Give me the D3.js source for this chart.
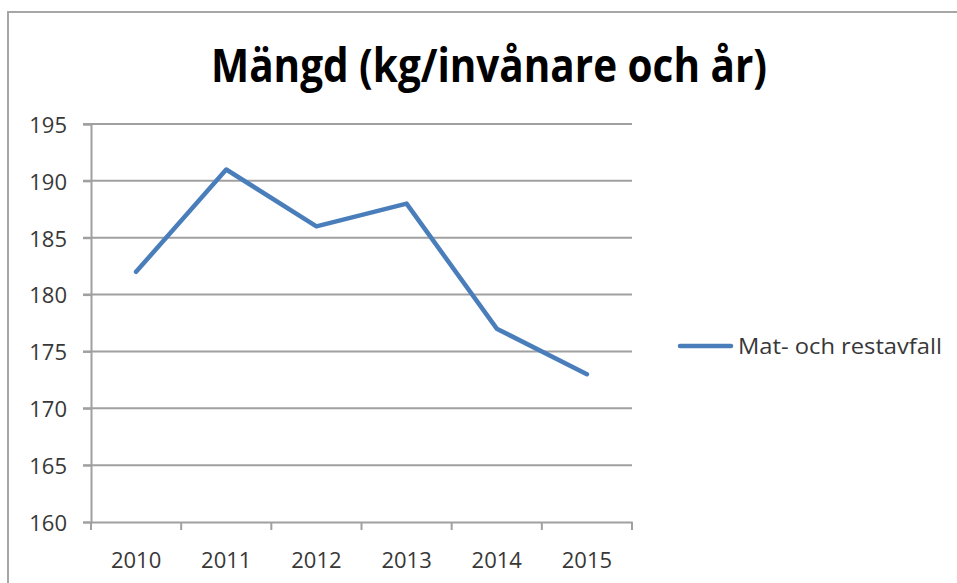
<!DOCTYPE html>
<html>
<head>
<meta charset="utf-8">
<script src="https://cdn.jsdelivr.net/npm/d3@7"></script>
<style>
  body { margin: 0; background: #fff; }
  svg { display: block; }
</style>
</head>
<body>
<svg id="chart"></svg>
<script>
const years = ['2010', '2011', '2012', '2013', '2014', '2015'];
const values = [182, 191, 186, 188, 177, 173];
const yTicks = [160, 165, 170, 175, 180, 185, 190, 195];
const seriesName = 'Mat- och restavfall';
const title = 'Mängd (kg/invånare och år)';

const width = 957, height = 583;
const margin = { top: 124, right: 325, bottom: 61, left: 91 };
const innerWidth = width - margin.left - margin.right;
const innerHeight = height - margin.top - margin.bottom;
const font = 'Open Sans, sans-serif';

const svg = d3.select('#chart')
  .attr('width', width)
  .attr('height', height);

// chart frame (only top and left edges are visible)
svg.append('path')
  .attr('d', `M8,${height} L8,12 L${width},12`)
  .attr('fill', 'none')
  .attr('stroke', '#a6a6a6')
  .attr('stroke-width', 2);

svg.append('text')
  .attr('x', 489)
  .attr('y', 82)
  .attr('text-anchor', 'middle')
  .attr('font-family', font)
  .attr('font-weight', 'bold')
  .attr('font-size', 47)
  .attr('textLength', 556)
  .attr('lengthAdjust', 'spacingAndGlyphs')
  .attr('fill', '#000')
  .text(title);

const g = svg.append('g')
  .attr('transform', `translate(${margin.left},${margin.top})`);

const x = d3.scaleBand()
  .domain(years)
  .range([0, innerWidth]);

const y = d3.scaleLinear()
  .domain([160, 195])
  .range([innerHeight, 0]);

// gridlines
g.append('g')
  .selectAll('line')
  .data(yTicks.filter(d => d !== 160))
  .join('line')
  .attr('x1', -8)
  .attr('x2', innerWidth)
  .attr('y1', d => y(d))
  .attr('y2', d => y(d))
  .attr('stroke', '#a0a0a0')
  .attr('stroke-width', 2);

// y axis
const yAxis = g.append('g')
  .call(d3.axisLeft(y).tickValues(yTicks).tickSize(8).tickPadding(16));

// x axis
const xAxis = g.append('g')
  .attr('transform', `translate(0,${innerHeight})`)
  .call(d3.axisBottom(x).tickSize(0).tickPadding(30));

xAxis.append('g')
  .selectAll('line')
  .data(d3.range(years.length + 1))
  .join('line')
  .attr('x1', i => i * x.step())
  .attr('x2', i => i * x.step())
  .attr('y1', 0)
  .attr('y2', 8)
  .attr('stroke', '#a0a0a0')
  .attr('stroke-width', 2);

[yAxis, xAxis].forEach(ax => {
  ax.select('.domain').attr('stroke', '#a0a0a0').attr('stroke-width', 2);
  ax.selectAll('.tick line').attr('stroke', '#a0a0a0').attr('stroke-width', 2);
  ax.selectAll('.tick text')
    .attr('font-family', font)
    .attr('font-size', 22)
    .attr('fill', '#383838');
});
yAxis.selectAll('.tick text').attr('dy', '0.38em');

// series line
const line = d3.line()
  .x((d, i) => x(years[i]) + x.bandwidth() / 2)
  .y(d => y(d));

g.append('path')
  .datum(values)
  .attr('fill', 'none')
  .attr('stroke', '#4a7ebb')
  .attr('stroke-width', 4.5)
  .attr('stroke-linejoin', 'round')
  .attr('stroke-linecap', 'round')
  .attr('d', line);

// legend
const legend = svg.append('g').attr('transform', 'translate(680,346)');
legend.append('line')
  .attr('x1', 0).attr('x2', 51)
  .attr('stroke', '#4a7ebb')
  .attr('stroke-width', 4.5)
  .attr('stroke-linecap', 'round');
legend.append('text')
  .attr('x', 58)
  .attr('dy', '0.36em')
  .attr('font-family', font)
  .attr('font-size', 22)
  .attr('textLength', 204)
  .attr('lengthAdjust', 'spacingAndGlyphs')
  .attr('fill', '#383838')
  .text(seriesName);
</script>
</body>
</html>
